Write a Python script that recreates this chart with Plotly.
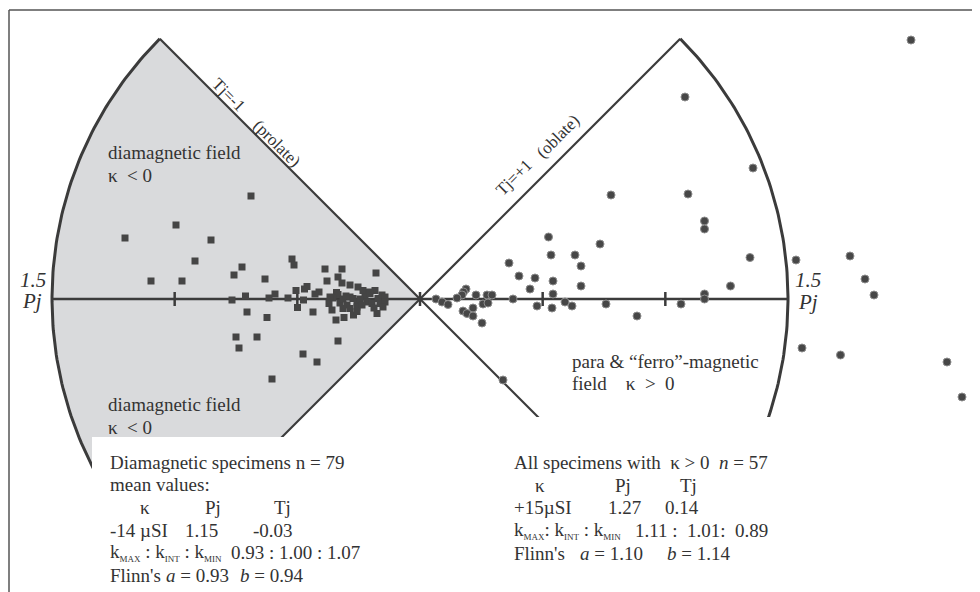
import numpy as np
import plotly.graph_objects as go

# The page body has an 8px margin: the figure is sized to the visible window
# and all pixel positions below are window positions (offset removed in P()).
OFF = 8
WIN_W, WIN_H = 980, 592
W, H = WIN_W - OFF, WIN_H - OFF
FONT = "Liberation Serif, Times New Roman, serif"
INK = "#3b3b3b"
TXT = "#333333"
GREY = "#d9dadc"

# ---- projection (Jelinek-type plot): sector apex at origin, arc = Pj 1.5 ----
R = 368                      # radius of the Pj = 1.5 arc (plot units)
tick_fracs = [1 / 3, 2 / 3]  # Pj scale ticks along the horizontal axis
CX, CY = 420, 299            # window position of the sector apex

# ---- diamagnetic specimens (kappa < 0), projected x / y ----
dia_x = [-169, -244, -295, -209, -225, -269, -238, -178, -186, -155, -128, -126,
         -95, -78, -44, -93, -82, -78, -70, -62, -57, -51, -45, -113, -115.5,
         -124, -101, -105, -145, -151, -188, -174.5, -132, -116.5, -122.5, -173,
         -153, -107, -91, -83.5, -82, -80, -77, -70, -67, -73, -77, -70, -63, -63,
         -55, -50, -53, -48, -42, -38, -40, -35, -35, -37, -43, -66.5, -76, -84,
         -63, -184, -163, -181, -82, -117, -103, -148, -87, -60, -74, -46, -58,
         -88, -90]
dia_y = [103, 74, 61, 59, 38, 18, 18, 32, 24, 20, 40, 34, 30, 30, 26, 18, 22, 16,
         14, 12, 8.5, 7, 8.5, 12.5, 10, 8.5, 7, 5, 5, 1, -1, 3, 1, -1, -8.5, -13,
         -18.5, -13, -4.5, 6.5, 4.5, -4, 0, 2, 0.5, -6, -9.5, -9.5, -3, -8, 2, 5.5,
         -3, -4.5, 0.5, 4, -4.5, 2, -3, -8, -14.5, -16, -18.5, -21, -12.5, -38,
         -38, -49, -42, -55, -63, -80, 1, 0, 3, -9, -6, -11, 2]

# ---- para & "ferro"-magnetic specimens (kappa > 0), projected x / y ----
para_x = [491, 265, 333, 191, 268, 284.5, 284.5, 128.5, 180, 330, 131, 155, 161,
          89, 99, 115, 133, 110, 161, 310.5, 284.5, 284.5, 133, 46, 43.5, 42, 37,
          16, 22, 28, 56, 67, 72, 63, 68, 93, 43, 47, 53, 53, 62, 117, 132, 145,
          152, 186, 217, 261, 376, 430, 445, 454, 382, 420.5, 527, 542, 83]
para_y = [259, 202, 131, 104, 105, 78, 70, 62, 55, 41.5, 44, 44, 33, 36, 23, 21,
          18, 10, 13, 13, 5, 0, 5, 10, 7, 4, 1, 0, -3, -5.5, 4, 4, 4, -5, -4, 0,
          -12, -14.5, -9, -17, -24, -7, -9, -3, -7, -5, -17, -5, 39, 43, 20, 4,
          -49, -56, -63, -98, -81]

fig = go.Figure()


def arc(a0, a1, n=120):
    t = np.radians(np.linspace(a0, a1, n))
    return R * np.cos(t), R * np.sin(t)


# grey diamagnetic sector
ax_, ay_ = arc(135, 225)
fig.add_trace(go.Scatter(x=np.r_[0, ax_, 0], y=np.r_[0, ay_, 0], mode="lines",
                         fill="toself", fillcolor=GREY, line=dict(width=0),
                         hoverinfo="skip", showlegend=False))

# sector outlines
for a0, a1 in [(135, 225), (-45, 45)]:
    xs, ys = arc(a0, a1)
    fig.add_trace(go.Scatter(x=xs, y=ys, mode="lines",
                             line=dict(color=INK, width=3), hoverinfo="skip",
                             showlegend=False))
for ang in [135, 225, 45, -45]:
    t = np.radians(ang)
    fig.add_trace(go.Scatter(x=[0, R * np.cos(t)], y=[0, R * np.sin(t)],
                             mode="lines", line=dict(color=INK, width=2.2),
                             hoverinfo="skip", showlegend=False))
# horizontal Pj axis
fig.add_trace(go.Scatter(x=[-R, R], y=[0, 0], mode="lines",
                         line=dict(color=INK, width=2.5), hoverinfo="skip",
                         showlegend=False))
# ticks
tx, ty = [], []
for f in [0] + tick_fracs + [-f for f in tick_fracs]:
    tx += [f * R, f * R, None]
    ty += [-7, 7, None]
fig.add_trace(go.Scatter(x=tx, y=ty, mode="lines",
                         line=dict(color=INK, width=2.5), hoverinfo="skip",
                         showlegend=False))

# data points
fig.add_trace(go.Scatter(x=dia_x, y=dia_y, mode="markers",
                         marker=dict(symbol="square", size=7, color="#454545",
                                     line=dict(width=0)),
                         showlegend=False))
fig.add_trace(go.Scatter(x=para_x, y=para_y, mode="markers",
                         marker=dict(symbol="circle", size=8, color="#474747",
                                     line=dict(width=1, color="#8c8c8c")),
                         showlegend=False))


def P(px, py):
    """window pixel -> paper coordinates"""
    return (px - OFF) / W, 1 - (py - OFF) / H


shapes = []
# white panels holding the statistics (cover lower part of sectors)
x0, y0 = P(92, 437)
x1, _ = P(420, 437)
shapes.append(dict(type="rect", xref="paper", yref="paper", x0=x0, x1=x1,
                   y0=-0.05, y1=y0, fillcolor="white", line=dict(width=0),
                   layer="above"))
x0, y0 = P(420, 417)
shapes.append(dict(type="rect", xref="paper", yref="paper", x0=x0, x1=1.05,
                   y0=-0.05, y1=y0, fillcolor="white", line=dict(width=0),
                   layer="above"))
# frame (top and left edges visible)
fx, fy = P(9, 10)
shapes.append(dict(type="line", xref="paper", yref="paper", x0=fx, x1=1.05,
                   y0=fy, y1=fy, line=dict(color="#555555", width=1.5),
                   layer="above"))
shapes.append(dict(type="line", xref="paper", yref="paper", x0=fx, x1=fx,
                   y0=fy, y1=-0.05, line=dict(color="#555555", width=1.5),
                   layer="above"))

ann = []


def T(px, py, s, size=19, anchor="left", angle=0):
    x, y = P(px, py)
    ann.append(dict(x=x, y=y, xref="paper", yref="paper", text=s,
                    showarrow=False, xanchor=anchor, yanchor="middle",
                    textangle=angle, borderpad=0,
                    font=dict(family=FONT, size=size, color=TXT)))


NB = "\u00a0"


def k(sub):
    return "k<sub><span style='font-size:9px'>" + sub + "</span></sub>"


# axis labels
T(33, 280, "<i>1.5</i>", 21, "center")
T(32, 301, "<i>Pj</i>", 21, "center")
T(808, 280, "<i>1.5</i>", 21, "center")
T(808, 302, "<i>Pj</i>", 21, "center")
# field labels
T(107, 152, "diamagnetic field")
T(107, 175, "κ" + NB * 2 + "< 0")
T(107, 404, "diamagnetic field")
T(107, 427, "κ" + NB * 2 + "< 0")
T(571, 361, "para &amp; “ferro”-magnetic")
T(571, 383, "field" + NB * 4 + "κ" + NB * 2 + ">" + NB * 2 + "0")
# rotated boundary labels
T(228, 95, "Tj=-1", 17, "center", 45)
T(277, 143, "(prolate)", 17, "center", 45)
T(514, 178, "Tj=+1", 17, "center", -45)
T(558, 137, "(oblate)", 17, "center", -45)

# statistics: diamagnetic
T(109, 463, "Diamagnetic specimens n = 79")
T(109, 484, "mean values:")
T(139, 507, "κ")
T(204, 507, "Pj")
T(273, 507, "Tj")
T(109, 530, "-14 µSI")
T(184, 530, "1.15")
T(252, 530, "-0.03")
T(109, 552, k("MAX") + " :" + NB + k("INT") + NB + ":" + NB + k("MIN"))
T(230, 552, "0.93 : 1.00 : 1.07")
T(109, 575, "Flinn's")
T(165, 575, "<i>a</i> = 0.93")
T(239, 575, "<i>b</i> = 0.94")

# statistics: kappa > 0
T(513, 462, "All specimens with" + NB * 2 + "κ > 0" + NB * 2 + "<i>n</i> = 57")
T(534, 485, "κ")
T(614, 485, "Pj")
T(679, 485, "Tj")
T(513, 507, "+15µSI")
T(607, 507, "1.27")
T(664, 507, "0.14")
T(513, 530, k("MAX") + ": " + k("INT") + " : " + k("MIN"))
T(634, 530, "1.11 :" + NB * 2 + "1.01:" + NB * 2 + "0.89")
T(513, 553, "Flinn's")
T(579, 553, "<i>a</i> = 1.10")
T(666, 553, "<i>b</i> = 1.14")

fig.update_layout(
    width=W, height=H, margin=dict(l=0, r=0, t=0, b=0),
    paper_bgcolor="white", plot_bgcolor="white",
    xaxis=dict(range=[OFF - CX, WIN_W - CX], visible=False, fixedrange=True),
    yaxis=dict(range=[CY - WIN_H, CY - OFF], visible=False, fixedrange=True),
    shapes=shapes, annotations=ann, showlegend=False,
)
fig.write_html("out.html")
